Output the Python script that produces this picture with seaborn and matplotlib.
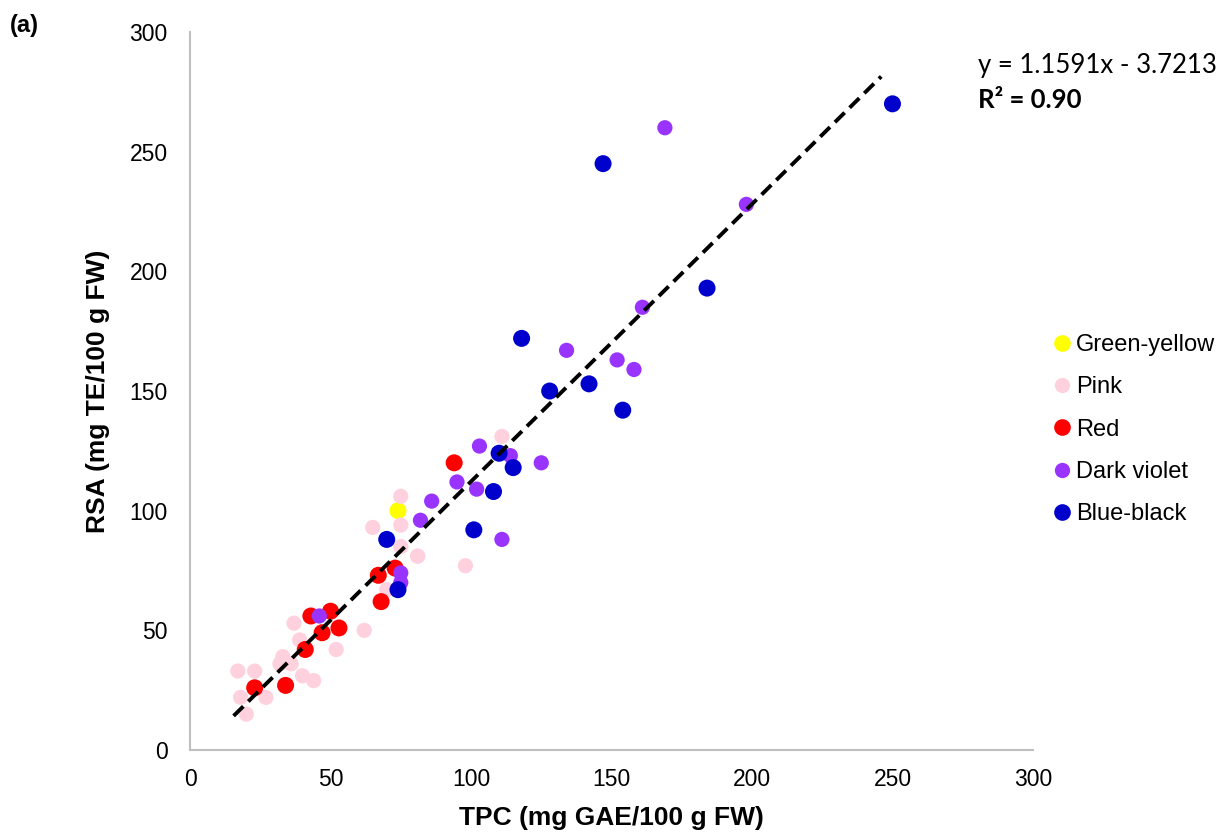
import numpy as np
import pandas as pd
import seaborn as sns
import matplotlib.pyplot as plt
from matplotlib.lines import Line2D

# values
groups = ['Green-yellow', 'Pink', 'Red', 'Dark violet', 'Blue-black']

gy_tpc = [74]
gy_rsa = [100]

pink_tpc = [81, 70, 37, 62, 39, 52, 33, 32, 36, 17, 23, 40, 44, 18, 27, 20,
            111, 75, 65, 75, 75, 81, 98]
pink_rsa = [81, 67, 53, 50, 46, 42, 39, 36, 36, 33, 33, 31, 29, 22, 22, 15,
            131, 106, 93, 94, 85, 81, 77]

red_tpc = [67, 73, 68, 43, 50, 53, 47, 41, 23, 34, 94]
red_rsa = [73, 76, 62, 56, 58, 51, 49, 42, 26, 27, 120]

violet_tpc = [75, 75, 46, 103, 114, 125, 95, 102, 86, 82, 111, 134, 152, 158, 169, 198, 161]
violet_rsa = [74, 70, 56, 127, 123, 120, 112, 109, 104, 96, 88, 167, 163, 159, 260, 228, 185]

blue_tpc = [74, 110, 115, 108, 101, 70, 118, 142, 128, 154, 147, 184, 250]
blue_rsa = [67, 124, 118, 108, 92, 88, 172, 153, 150, 142, 245, 193, 270]

# linear trend as given in the chart
slope = 1.1591
intercept = -3.7213
trend_x = [15.5, 246]

colors = {'Green-yellow': '#ffff00', 'Pink': '#ffd1de', 'Red': '#ff0000',
          'Dark violet': '#9933ff', 'Blue-black': '#0000cc'}
sizes = {'Green-yellow': 150, 'Pink': 120, 'Red': 150, 'Dark violet': 120, 'Blue-black': 150}

df = pd.concat([
    pd.DataFrame({'TPC': gy_tpc, 'RSA': gy_rsa, 'Group': 'Green-yellow'}),
    pd.DataFrame({'TPC': pink_tpc, 'RSA': pink_rsa, 'Group': 'Pink'}),
    pd.DataFrame({'TPC': red_tpc, 'RSA': red_rsa, 'Group': 'Red'}),
    pd.DataFrame({'TPC': violet_tpc, 'RSA': violet_rsa, 'Group': 'Dark violet'}),
    pd.DataFrame({'TPC': blue_tpc, 'RSA': blue_rsa, 'Group': 'Blue-black'}),
], ignore_index=True)

sns.set_style('white')
plt.rcParams['font.family'] = ['Liberation Sans', 'DejaVu Sans']
plt.rcParams['text.color'] = 'black'
plt.rcParams['xtick.color'] = 'black'
plt.rcParams['ytick.color'] = 'black'
plt.rcParams['axes.labelcolor'] = 'black'

fig = plt.figure(figsize=(12.23, 8.34), dpi=100)
ax = fig.add_axes([0.1554, 0.1007, 0.6892, 0.8609])

sns.scatterplot(data=df, x='TPC', y='RSA', hue='Group', hue_order=groups, palette=colors,
                size='Group', size_order=groups, sizes=sizes, linewidth=0, legend=False, ax=ax)

tx = np.array(trend_x)
ax.plot(tx, slope * tx + intercept, color='black', linestyle=(0, (3.5, 1.8)), linewidth=2.8)

ax.set_xlim(0, 300)
ax.set_ylim(0, 300)
ax.set_xticks(range(0, 301, 50))
ax.set_yticks(range(0, 301, 50))
ax.tick_params(axis='both', length=0, labelsize=16.5)
ax.tick_params(axis='x', pad=13)
ax.tick_params(axis='y', pad=16)
for side in ['top', 'right']:
    ax.spines[side].set_visible(False)
for side in ['left', 'bottom']:
    ax.spines[side].set_color('#bfbfbf')
    ax.spines[side].set_linewidth(1.5)

ax.set_xlabel('TPC (mg GAE/100 g FW)', fontsize=19, fontweight='bold', labelpad=11)
ax.set_ylabel('RSA (mg TE/100 g FW)', fontsize=19, fontweight='bold', labelpad=14)

fig.text(0.008, 0.962, '(a)', fontsize=17, fontweight='bold')
fig.text(0.800, 0.912, 'y = 1.1591x - 3.7213', fontsize=18.5, family='Lato')
fig.text(0.800, 0.870, 'R² = 0.90', fontsize=18.5, family='Lato', fontweight='bold')

handles = [Line2D([], [], marker='o', linestyle='', markersize=12 if sizes[g] > 130 else 11,
                  markerfacecolor=colors[g], markeredgewidth=0, label=g) for g in groups]
fig.legend(handles=handles, loc='center left', bbox_to_anchor=(0.849, 0.485), frameon=False,
           fontsize=17, handletextpad=0.0, handlelength=1.2, labelspacing=0.86, borderaxespad=0)

fig.savefig('out.png', dpi=100)
